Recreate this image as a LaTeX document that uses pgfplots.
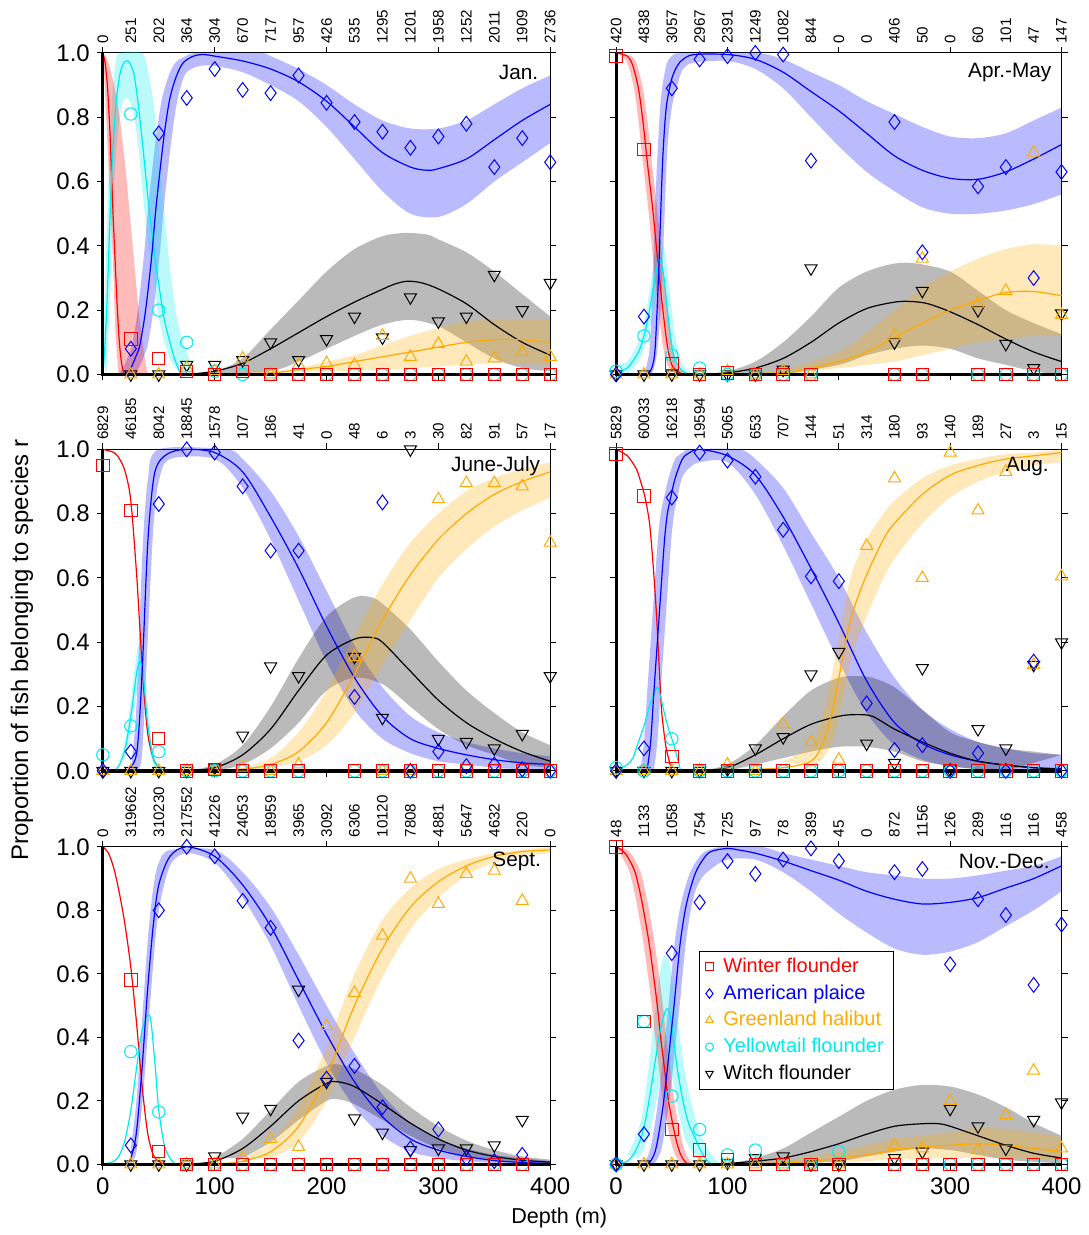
\documentclass[border=0pt]{standalone}
\usepackage{fontspec}
\setmainfont{Liberation Sans}
\usepackage{pgfplots}
\pgfplotsset{compat=1.18}
\usepgfplotslibrary{fillbetween}

\definecolor{wf}{RGB}{255,0,0}
\definecolor{ap}{RGB}{0,0,255}
\definecolor{gh}{RGB}{255,170,0}
\definecolor{yf}{RGB}{0,235,235}
\definecolor{wi}{RGB}{0,0,0}

\pgfplotsset{
  panel/.style={scale only axis, anchor=south west,
    xmin=0, xmax=400, ymin=0, ymax=1,
    xtick={0,100,200,300,400}, ytick={0,0.2,0.4,0.6,0.8,1},
    tick align=outside, major tick length=3pt, clip=false,
    axis line style={line width=0.5pt},
    every tick/.style={black, line width=0.5pt},
    tick label style={font=\fontsize{12}{14}\selectfont},
    /pgf/number format/assume math mode=true,
    yticklabel style={/pgf/number format/fixed, /pgf/number format/fixed zerofill, /pgf/number format/precision=1}},
  % fitted curves
  lwf/.style={wf, line width=0.6pt, smooth, forget plot},
  lap/.style={ap, line width=0.6pt, smooth, forget plot},
  lgh/.style={gh, line width=0.6pt, smooth, forget plot},
  lyf/.style={yf, line width=0.6pt, smooth, forget plot},
  lwi/.style={wi, line width=0.6pt, smooth, forget plot},
  % observed proportions
  mwf/.style={only marks, wf, mark=square, mark size=3.1pt, mark options={line width=0.5pt}, forget plot},
  map/.style={only marks, ap, mark=diamond, mark size=3.7pt, mark options={line width=0.5pt}, forget plot},
  mgh/.style={only marks, gh, mark=triangle, mark size=3.5pt, mark options={line width=0.5pt}, forget plot},
  myf/.style={only marks, yf, mark=o, mark size=3.1pt, mark options={line width=0.5pt}, forget plot},
  mwi/.style={only marks, wi, mark=triangle, mark size=3.5pt, mark options={rotate=180, line width=0.5pt}, forget plot},
}

% confidence band: colour, id, upper edge, lower edge
\newcommand{\band}[4]{%
  \addplot[draw=none, smooth, forget plot, name path=#2u] coordinates {#3};
  \addplot[draw=none, smooth, forget plot, name path=#2l] coordinates {#4};
  \addplot[fill=#1, fill opacity=0.27, draw=none, forget plot] fill between[of=#2u and #2l];
}
\newcommand{\frameaxes}{\draw[line width=1.6pt] (rel axis cs:0,1) -- (rel axis cs:0,0) -- (rel axis cs:1,0);}
\newcommand{\panellabel}[3]{\node[anchor=east, font=\fontsize{10.4}{12}\selectfont] at (rel axis cs:#1,#2) {#3};}
% sample sizes along the top edge: left x, step per 25 m, top y, list
\newcommand{\toplabels}[4]{%
  \foreach \n [count=\i from 0] in {#4}
    \node[rotate=90, anchor=west, font=\fontsize{7.6}{8}\selectfont, inner sep=0pt] at ({#1+\i*#2},{#3+4.5pt}) {\n};}

\begin{document}
\begin{tikzpicture}

% ================= January =================
\begin{axis}[panel, at={(51.5pt,430pt)}, width=224pt, height=161pt, xticklabels={}]
\band{ap}{a1}{(13,0) (18,0.02) (23,0.06) (26,0.09) (30,0.17) (33,0.25) (37,0.38) (40,0.5) (43,0.6) (48,0.75) (53,0.86) (59,0.93) (65,0.97) (74,0.99) (85,1) (140,1) (150,0.99) (175,0.95) (200,0.9) (225,0.84) (250,0.79) (275,0.765) (300,0.765) (325,0.79) (350,0.84) (375,0.89) (400,0.93)}
  {(27,0) (32,0.02) (37,0.06) (40,0.09) (44,0.17) (47,0.25) (51,0.38) (54,0.5) (57,0.6) (62,0.75) (67,0.86) (73,0.93) (79,0.95) (88,0.96) (100,0.96) (125,0.94) (150,0.9) (175,0.85) (200,0.77) (225,0.67) (250,0.57) (275,0.5) (300,0.49) (325,0.53) (350,0.6) (375,0.66) (400,0.72)}
\band{wi}{k1}{(75,0) (100,0.01) (125,0.05) (150,0.14) (175,0.23) (200,0.32) (225,0.39) (250,0.43) (270,0.44) (290,0.435) (300,0.42) (325,0.38) (350,0.32) (375,0.25) (400,0.18)}
  {(100,0) (150,0.01) (175,0.04) (200,0.08) (225,0.12) (250,0.155) (275,0.17) (300,0.15) (325,0.1) (350,0.05) (375,0.02) (400,0.01)}
\band{gh}{g1}{(100,0) (150,0.01) (175,0.02) (200,0.04) (225,0.06) (250,0.09) (275,0.12) (300,0.145) (325,0.165) (350,0.17) (375,0.17) (400,0.17)}
  {(100,0) (250,0.015) (300,0.025) (350,0.035) (400,0.03)}
\band{yf}{c1}{(0,0.05) (3,0.4) (6,0.7) (9,0.9) (12,0.98) (15,1) (35,1) (40,0.95) (45,0.85) (50,0.7) (55,0.5) (60,0.33) (65,0.2) (70,0.12) (75,0.07) (78,0.04) (82,0)}
  {(3,0) (6,0.2) (9,0.5) (12,0.7) (16,0.82) (20,0.86) (24,0.85) (28,0.8) (32,0.7) (36,0.55) (40,0.42) (45,0.3) (50,0.18) (55,0.1) (60,0.05) (65,0.02) (70,0)}
\band{wf}{r1}{(0,1) (5,0.97) (10,0.9) (15,0.8) (20,0.65) (24,0.5) (28,0.35) (32,0.2) (36,0.09) (39,0.02) (41,0)}
  {(0,1) (1,0.95) (3,0.8) (5,0.65) (7,0.5) (9,0.35) (11,0.15) (12,0.09) (14,0)}
\addplot[lwf] coordinates {(0,1) (2,0.97) (4,0.9) (6,0.78) (8,0.6) (9,0.51) (11,0.35) (13,0.2) (15,0.09) (17,0.03) (19,0)};
\addplot[lyf] coordinates {(0,0) (2,0.1) (4,0.25) (6.5,0.5) (9,0.7) (12,0.85) (15,0.93) (18,0.965) (21,0.975) (24,0.97) (28,0.93) (32,0.83) (36,0.7) (40,0.56) (42,0.5) (46,0.38) (50,0.28) (55,0.17) (60,0.1) (65,0.04) (70,0)};
\addplot[lap] coordinates {(20,0) (25,0.02) (30,0.06) (33,0.09) (37,0.17) (40,0.25) (44,0.38) (47,0.5) (50,0.6) (55,0.75) (60,0.86) (66,0.93) (72,0.97) (81,0.99) (90,0.995) (100,0.99) (125,0.975) (150,0.95) (175,0.91) (200,0.85) (225,0.77) (250,0.69) (275,0.645) (290,0.635) (300,0.64) (325,0.67) (350,0.73) (375,0.79) (400,0.84)};
\addplot[lwi] coordinates {(75,0) (100,0.01) (125,0.035) (150,0.08) (175,0.13) (200,0.18) (225,0.225) (250,0.265) (260,0.28) (272,0.29) (285,0.285) (300,0.266) (325,0.22) (350,0.155) (375,0.1) (400,0.06)};
\addplot[lgh] coordinates {(100,0) (150,0.005) (175,0.015) (200,0.025) (225,0.04) (250,0.055) (275,0.07) (300,0.085) (325,0.1) (350,0.108) (375,0.108) (400,0.1)};
\addplot[mwi] coordinates {(25,0) (50,0) (75,0.03) (100,0.03) (125,0.045) (150,0.1) (175,0.045) (200,0.11) (225,0.18) (250,0.115) (275,0.24) (300,0.165) (325,0.18) (350,0.31) (375,0.2) (400,0.285)};
\addplot[mgh] coordinates {(25,0) (50,0) (75,0.02) (100,0.01) (125,0.05) (150,0) (175,0.03) (200,0.035) (225,0.03) (250,0.12) (275,0.055) (300,0.095) (325,0.04) (350,0.05) (375,0.07) (400,0.055)};
\addplot[myf] coordinates {(25,0.81) (50,0.2) (75,0.1) (100,0.01) (125,0) (150,0) (175,0) (200,0) (225,0) (250,0) (275,0) (300,0) (325,0) (350,0) (375,0) (400,0)};
\addplot[map] coordinates {(25,0.08) (50,0.75) (75,0.86) (100,0.95) (125,0.885) (150,0.875) (175,0.93) (200,0.845) (225,0.785) (250,0.755) (275,0.705) (300,0.74) (325,0.78) (350,0.645) (375,0.735) (400,0.66)};
\addplot[mwf] coordinates {(25,0.11) (50,0.05) (75,0.01) (100,0) (125,0.01) (150,0) (175,0) (200,0) (225,0) (250,0) (275,0) (300,0) (325,0) (350,0) (375,0) (400,0)};
\frameaxes
\panellabel{0.989}{0.94}{Jan.}
\end{axis}
\toplabels{51.5pt}{14pt}{591pt}{0,251,202,364,304,670,717,957,426,535,1295,1201,1958,1252,2011,1909,2736}

% ================= April-May =================
\begin{axis}[panel, at={(308.5pt,430pt)}, width=223pt, height=161pt, xticklabels={}, yticklabels={}]
\band{ap}{a2}{(25,0) (30,0.08) (33,0.3) (36,0.6) (40,0.85) (45,0.96) (50,0.99) (60,1) (125,1) (150,0.98) (175,0.94) (200,0.9) (225,0.85) (250,0.81) (275,0.77) (300,0.74) (325,0.735) (350,0.75) (375,0.79) (400,0.83)}
  {(32,0) (36,0.05) (40,0.2) (43,0.45) (46,0.7) (50,0.83) (55,0.9) (60,0.95) (70,0.97) (100,0.975) (125,0.95) (150,0.89) (175,0.8) (200,0.71) (225,0.63) (250,0.57) (275,0.52) (300,0.5) (325,0.5) (350,0.51) (375,0.53) (400,0.56)}
\band{wi}{k2}{(75,0) (100,0.01) (125,0.04) (150,0.1) (175,0.18) (200,0.27) (225,0.32) (250,0.345) (270,0.345) (300,0.32) (325,0.26) (350,0.2) (375,0.16) (400,0.125)}
  {(150,0) (200,0.03) (225,0.06) (250,0.08) (275,0.09) (300,0.08) (325,0.05) (350,0.03) (375,0.01) (400,0)}
\band{gh}{g2}{(100,0) (150,0.015) (200,0.07) (225,0.13) (250,0.2) (275,0.27) (300,0.32) (325,0.36) (350,0.39) (375,0.405) (400,0.4)}
  {(150,0) (200,0.02) (250,0.04) (275,0.06) (300,0.08) (325,0.1) (350,0.11) (375,0.12) (400,0.12)}
\band{yf}{c2}{(0,0.03) (10,0.04) (20,0.1) (25,0.16) (30,0.26) (35,0.37) (39,0.42) (44,0.38) (48,0.26) (52,0.14) (56,0.07) (60,0.03) (66,0.01) (70,0)}
  {(10,0) (20,0.04) (25,0.08) (30,0.14) (35,0.22) (39,0.28) (43,0.22) (47,0.1) (51,0.03) (55,0.01) (60,0)}
\band{wf}{r2}{(0,1) (14,0.99) (19,0.96) (24,0.89) (28,0.79) (32,0.66) (37,0.51) (42,0.33) (46,0.2) (50,0.09) (54,0.03) (59,0.01) (64,0)}
  {(0,1) (6,0.99) (11,0.96) (16,0.89) (20,0.79) (24,0.66) (29,0.51) (34,0.33) (38,0.2) (42,0.09) (46,0.03) (51,0.01) (56,0)}
\addplot[lwf] coordinates {(0,1) (10,0.99) (15,0.96) (20,0.89) (24,0.79) (28,0.66) (33,0.51) (38,0.33) (42,0.2) (46,0.09) (50,0.03) (55,0.01) (60,0)};
\addplot[lyf] coordinates {(0,0.01) (10,0.02) (20,0.07) (25,0.12) (30,0.2) (35,0.3) (39,0.36) (43,0.3) (47,0.17) (51,0.07) (55,0.03) (60,0.01) (65,0)};
\addplot[lap] coordinates {(28,0) (32,0.02) (35,0.08) (38,0.3) (40,0.5) (42,0.68) (45,0.83) (50,0.92) (55,0.96) (60,0.98) (70,0.995) (100,0.995) (125,0.98) (150,0.94) (175,0.88) (200,0.82) (225,0.75) (250,0.68) (275,0.635) (300,0.61) (325,0.607) (350,0.63) (375,0.67) (400,0.715)};
\addplot[lwi] coordinates {(75,0) (100,0.005) (125,0.02) (150,0.05) (175,0.1) (200,0.16) (225,0.205) (250,0.225) (265,0.227) (280,0.22) (300,0.195) (325,0.155) (350,0.11) (375,0.07) (400,0.04)};
\addplot[lgh] coordinates {(100,0) (150,0.005) (175,0.02) (200,0.04) (225,0.07) (250,0.115) (275,0.16) (300,0.2) (325,0.23) (350,0.255) (375,0.258) (400,0.245)};
\addplot[mwi] coordinates {(0,0) (25,0) (50,0) (75,0) (100,0) (125,0) (150,0.015) (175,0.33) (250,0.1) (275,0.26) (325,0.2) (350,0.095) (375,0.02) (400,0.19)};
\addplot[mgh] coordinates {(0,0) (25,0) (50,0) (75,0) (100,0.01) (125,0) (150,0.01) (175,0) (250,0.12) (275,0.36) (325,0.22) (350,0.26) (375,0.69) (400,0.185)};
\addplot[myf] coordinates {(0,0.01) (25,0.12) (50,0.06) (75,0.02) (100,0) (125,0) (150,0) (175,0) (250,0) (275,0) (325,0) (350,0) (375,0) (400,0)};
\addplot[map] coordinates {(0,0) (25,0.18) (50,0.89) (75,0.98) (100,0.99) (125,1.0) (150,0.995) (175,0.665) (250,0.785) (275,0.38) (325,0.585) (350,0.645) (375,0.3) (400,0.63)};
\addplot[mwf] coordinates {(0,0.99) (25,0.7) (50,0.035) (75,0) (100,0.005) (125,0) (150,0) (175,0) (250,0) (275,0) (325,0) (350,0) (375,0) (400,0)};
\frameaxes
\panellabel{0.993}{0.94}{Apr.-May}
\end{axis}
\toplabels{308.5pt}{13.9375pt}{591pt}{420,4838,3057,2967,2391,1249,1082,844,0,0,406,50,0,60,101,47,147}

% ================= June-July =================
\begin{axis}[panel, at={(51.5pt,231.5pt)}, width=224pt, height=161pt, xticklabels={}]
\band{ap}{a3}{(25,0) (30,0.2) (35,0.65) (40,0.9) (50,1) (110,1) (125,0.97) (150,0.87) (175,0.73) (200,0.56) (225,0.39) (250,0.26) (275,0.17) (300,0.12) (325,0.09) (350,0.07) (375,0.055) (400,0.045)}
  {(30,0) (35,0.05) (40,0.4) (45,0.75) (50,0.9) (60,0.97) (100,0.97) (125,0.88) (150,0.72) (175,0.53) (200,0.34) (225,0.19) (250,0.1) (275,0.055) (300,0.03) (325,0.02) (350,0.01) (375,0.005) (400,0)}
\band{wi}{k3}{(75,0) (100,0.02) (125,0.08) (150,0.2) (175,0.35) (200,0.48) (225,0.54) (240,0.54) (250,0.52) (275,0.44) (300,0.34) (325,0.25) (350,0.18) (375,0.12) (400,0.08)}
  {(100,0) (125,0.02) (150,0.07) (175,0.15) (200,0.25) (225,0.29) (250,0.27) (275,0.2) (300,0.13) (325,0.08) (350,0.05) (375,0.02) (400,0.01)}
\band{gh}{g3}{(100,0) (125,0.01) (150,0.04) (175,0.12) (200,0.25) (225,0.42) (250,0.58) (275,0.71) (300,0.8) (325,0.87) (350,0.91) (375,0.94) (400,0.96)}
  {(125,0) (150,0.01) (175,0.03) (200,0.08) (225,0.18) (250,0.33) (275,0.47) (300,0.6) (325,0.69) (350,0.76) (375,0.81) (400,0.85)}
\band{yf}{c3}{(15,0.03) (20,0.1) (25,0.22) (30,0.36) (33,0.4) (36,0.36) (40,0.2) (45,0.06) (50,0.02) (55,0)}
  {(20,0.04) (25,0.12) (30,0.24) (33,0.28) (36,0.24) (40,0.1) (45,0.02) (50,0)}
\addplot[lwf] coordinates {(0,1) (10,0.99) (15,0.97) (20,0.93) (25,0.84) (30,0.62) (33,0.45) (36,0.28) (40,0.12) (45,0.04) (50,0.01) (55,0)};
\addplot[lyf] coordinates {(10,0) (15,0.02) (20,0.07) (25,0.17) (30,0.3) (33,0.34) (36,0.3) (40,0.15) (45,0.04) (50,0.01) (55,0)};
\addplot[lap] coordinates {(20,0) (30,0.05) (35,0.3) (40,0.7) (45,0.9) (50,0.96) (60,0.99) (75,1.0) (100,0.99) (125,0.93) (150,0.79) (175,0.63) (200,0.45) (225,0.29) (250,0.17) (275,0.1) (300,0.07) (325,0.05) (350,0.035) (375,0.025) (400,0.02)};
\addplot[lwi] coordinates {(75,0) (100,0.01) (125,0.05) (150,0.13) (175,0.25) (200,0.36) (225,0.41) (240,0.415) (250,0.4) (275,0.31) (300,0.22) (325,0.15) (350,0.1) (375,0.06) (400,0.03)};
\addplot[lgh] coordinates {(100,0) (125,0.005) (150,0.02) (175,0.06) (200,0.15) (225,0.3) (250,0.47) (275,0.61) (300,0.72) (325,0.8) (350,0.86) (375,0.9) (400,0.93)};
\addplot[mwi] coordinates {(0,0) (25,0) (50,0) (75,0) (100,0.01) (125,0.11) (150,0.325) (175,0.295) (225,0.355) (250,0.165) (275,1.0) (300,0.1) (325,0.09) (350,0.07) (375,0.115) (400,0.295)};
\addplot[mgh] coordinates {(0,0) (25,0) (50,0) (75,0) (100,0) (125,0.01) (150,0) (175,0.02) (225,0.355) (250,0) (275,0) (300,0.845) (325,0.895) (350,0.895) (375,0.885) (400,0.71)};
\addplot[myf] coordinates {(0,0.05) (25,0.14) (50,0.06) (75,0) (100,0) (125,0) (150,0) (175,0) (225,0) (250,0) (275,0) (300,0) (325,0) (350,0) (375,0) (400,0)};
\addplot[map] coordinates {(0,0) (25,0.06) (50,0.83) (75,1.0) (100,0.99) (125,0.885) (150,0.685) (175,0.685) (225,0.23) (250,0.835) (275,0) (300,0.06) (325,0.015) (350,0.02) (375,0.005) (400,0)};
\addplot[mwf] coordinates {(0,0.95) (25,0.81) (50,0.1) (75,0) (100,0.005) (125,0) (150,0) (175,0) (225,0) (250,0) (275,0) (300,0) (325,0) (350,0) (375,0) (400,0)};
\frameaxes
\panellabel{0.993}{0.947}{June-July}
\end{axis}
\toplabels{51.5pt}{14pt}{392.5pt}{6829,46185,8042,18845,1578,107,186,41,0,48,6,3,30,82,91,57,17}

% ================= August =================
\begin{axis}[panel, at={(308.5pt,231.5pt)}, width=223pt, height=161pt, xticklabels={}, yticklabels={}]
\band{ap}{a4}{(20,0) (22,0.01) (25,0.09) (28,0.25) (31,0.4) (33,0.5) (35,0.6) (37.5,0.72) (40,0.8) (43,0.85) (47,0.91) (53,0.97) (60,0.99) (67,1) (110,1) (125,0.97) (150,0.88) (175,0.74) (200,0.6) (225,0.43) (250,0.29) (275,0.19) (300,0.13) (325,0.09) (350,0.07) (375,0.055) (400,0.05)}
  {(32,0) (34,0.01) (37,0.09) (40,0.25) (43,0.4) (45,0.5) (47,0.6) (49.5,0.72) (52,0.8) (55,0.85) (59,0.91) (65,0.94) (75,0.96) (100,0.96) (125,0.86) (150,0.7) (175,0.52) (200,0.34) (225,0.18) (250,0.08) (275,0.035) (300,0.015) (325,0.006) (350,0.002) (400,0)}
\band{wi}{k4}{(75,0) (100,0.02) (125,0.08) (150,0.17) (175,0.25) (200,0.29) (215,0.295) (230,0.29) (250,0.26) (275,0.19) (300,0.12) (325,0.09) (350,0.07) (375,0.06) (400,0.05)}
  {(100,0) (125,0.02) (150,0.04) (175,0.06) (200,0.075) (225,0.075) (250,0.06) (275,0.03) (300,0.015) (325,0.005) (350,0)}
\band{gh}{g4}{(150,0.03) (175,0.08) (186,0.18) (195,0.32) (206,0.53) (213,0.63) (225,0.72) (240,0.8) (250,0.84) (275,0.91) (300,0.95) (325,0.97) (350,0.985) (375,0.99) (400,1)}
  {(175,0.01) (186,0.04) (195,0.1) (206,0.27) (213,0.37) (225,0.48) (240,0.6) (250,0.66) (275,0.77) (300,0.85) (325,0.9) (350,0.93) (375,0.95) (400,0.96)}
\addplot[lwf] coordinates {(0,1) (10,0.98) (18,0.94) (22,0.9) (26,0.85) (30,0.77) (33,0.65) (36,0.5) (39,0.3) (41,0.18) (44.5,0.08) (47,0.04) (50,0)};
\addplot[lyf] coordinates {(0,0.02) (5,0.01) (10,0.02) (15,0.04) (20,0.09) (25,0.14) (30,0.2) (34,0.24) (37,0.26) (40,0.23) (44,0.17) (48,0.12) (52,0.08) (55,0.04) (58,0)};
\addplot[lap] coordinates {(26,0) (28,0.01) (31,0.09) (34,0.25) (37,0.4) (39,0.5) (41,0.6) (43.5,0.72) (46,0.8) (49,0.85) (53,0.91) (59.5,0.97) (66,0.99) (75,1) (100,0.98) (125,0.92) (150,0.79) (175,0.63) (200,0.46) (225,0.28) (250,0.15) (275,0.085) (300,0.05) (325,0.03) (350,0.018) (375,0.01) (400,0.007)};
\addplot[lwi] coordinates {(75,0) (100,0.01) (125,0.05) (150,0.1) (175,0.145) (200,0.17) (215,0.175) (230,0.17) (250,0.13) (275,0.09) (300,0.055) (325,0.03) (350,0.018) (375,0.01) (400,0.005)};
\addplot[lgh] coordinates {(100,0) (125,0.005) (150,0.01) (175,0.03) (186,0.09) (195,0.2) (206,0.4) (213,0.5) (225,0.61) (240,0.72) (250,0.77) (275,0.86) (300,0.92) (325,0.95) (350,0.97) (375,0.98) (400,0.99)};
\addplot[mwi] coordinates {(0,0) (25,0) (50,0) (75,0) (100,0.005) (125,0.07) (150,0.105) (175,0.3) (200,0.37) (225,0.085) (250,0.025) (275,0.32) (300,0.005) (325,0.13) (350,0.07) (375,0.33) (400,0.4)};
\addplot[mgh] coordinates {(0,0) (25,0) (50,0) (75,0) (100,0.02) (125,0) (150,0.145) (175,0.09) (200,0.035) (225,0.7) (250,0.91) (275,0.6) (300,0.99) (325,0.81) (350,0.93) (375,0.33) (400,0.605)};
\addplot[myf] coordinates {(0,0.01) (25,0) (50,0.1) (75,0) (100,0) (125,0) (150,0) (175,0) (200,0) (225,0) (250,0) (275,0) (300,0) (325,0) (350,0) (375,0) (400,0)};
\addplot[map] coordinates {(0,0) (25,0.07) (50,0.85) (75,0.99) (100,0.965) (125,0.915) (150,0.75) (175,0.605) (200,0.59) (225,0.21) (250,0.065) (275,0.08) (300,0) (325,0.055) (350,0) (375,0.34) (400,0)};
\addplot[mwf] coordinates {(0,0.985) (25,0.855) (50,0.045) (75,0) (100,0) (125,0) (150,0) (175,0) (200,0) (225,0) (250,0) (275,0) (300,0) (325,0) (350,0) (375,0) (400,0)};
\frameaxes
\panellabel{0.987}{0.947}{Aug.}
\end{axis}
\toplabels{308.5pt}{13.9375pt}{392.5pt}{5829,60033,16218,19594,5065,653,707,144,51,314,180,93,140,189,27,3,15}

% ================= September =================
\begin{axis}[panel, at={(51.5pt,34.5pt)}, width=224pt, height=159pt]
\band{ap}{a5}{(25,0.05) (30,0.2) (35,0.45) (40,0.7) (45,0.87) (50,0.95) (60,0.99) (100,0.99) (125,0.92) (150,0.81) (175,0.66) (200,0.5) (225,0.35) (250,0.22) (275,0.13) (300,0.08) (325,0.05) (350,0.03) (375,0.02) (400,0.01)}
  {(25,0) (30,0.04) (35,0.18) (40,0.4) (45,0.63) (50,0.8) (60,0.94) (75,0.98) (100,0.95) (125,0.84) (150,0.69) (175,0.5) (200,0.32) (225,0.18) (250,0.09) (275,0.04) (300,0.02) (325,0.01) (350,0.005) (400,0)}
\band{wi}{k5}{(100,0.02) (125,0.08) (150,0.17) (175,0.26) (200,0.31) (210,0.315) (225,0.3) (250,0.25) (275,0.18) (300,0.12) (325,0.075) (350,0.045) (375,0.025) (400,0.015)}
  {(125,0.02) (150,0.07) (175,0.14) (200,0.2) (210,0.205) (225,0.19) (250,0.14) (275,0.09) (300,0.05) (325,0.025) (350,0.012) (375,0.005) (400,0)}
\band{gh}{g5}{(125,0.02) (150,0.07) (175,0.18) (200,0.37) (225,0.6) (250,0.77) (275,0.87) (300,0.93) (325,0.96) (350,0.98) (375,0.99) (400,1)}
  {(150,0.02) (175,0.07) (200,0.2) (225,0.4) (250,0.59) (275,0.74) (300,0.84) (325,0.91) (350,0.95) (375,0.97) (400,0.98)}
\addplot[lwf] coordinates {(0,1) (5,0.98) (10,0.93) (15,0.85) (20,0.75) (25,0.62) (30,0.45) (35,0.25) (40,0.1) (45,0.03) (50,0.01) (55,0)};
\addplot[lyf] coordinates {(0,0) (10,0.01) (15,0.03) (20,0.08) (25,0.17) (30,0.3) (35,0.42) (40,0.47) (43,0.45) (47,0.3) (50,0.17) (55,0.06) (60,0.02) (65,0)};
\addplot[lap] coordinates {(20,0) (25,0.02) (30,0.1) (35,0.3) (40,0.55) (45,0.75) (50,0.88) (60,0.97) (75,1) (100,0.97) (125,0.88) (150,0.75) (175,0.58) (200,0.41) (225,0.26) (250,0.15) (275,0.08) (300,0.045) (325,0.025) (350,0.012) (375,0.006) (400,0.003)};
\addplot[lwi] coordinates {(75,0) (100,0.01) (125,0.05) (150,0.12) (175,0.2) (200,0.255) (210,0.26) (225,0.245) (250,0.19) (275,0.13) (300,0.08) (325,0.045) (350,0.025) (375,0.013) (400,0.007)};
\addplot[lgh] coordinates {(100,0) (125,0.01) (150,0.04) (175,0.12) (200,0.28) (225,0.5) (250,0.68) (275,0.81) (300,0.89) (325,0.94) (350,0.97) (375,0.985) (400,0.99)};
\addplot[mwi] coordinates {(25,0) (50,0) (75,0) (100,0.025) (125,0.15) (150,0.175) (175,0.55) (200,0.26) (225,0.145) (250,0.1) (275,0.045) (300,0.05) (325,0.05) (350,0.06) (375,0.14)};
\addplot[mgh] coordinates {(25,0) (50,0) (75,0) (100,0) (125,0.02) (150,0.08) (175,0.055) (200,0.435) (225,0.54) (250,0.72) (275,0.9) (300,0.82) (325,0.915) (350,0.925) (375,0.83)};
\addplot[myf] coordinates {(25,0.355) (50,0.165) (75,0) (100,0) (125,0) (150,0) (175,0) (200,0) (225,0) (250,0) (275,0) (300,0) (325,0) (350,0) (375,0)};
\addplot[map] coordinates {(25,0.06) (50,0.8) (75,1.0) (100,0.97) (125,0.83) (150,0.745) (175,0.39) (200,0.27) (225,0.31) (250,0.18) (275,0.05) (300,0.11) (325,0.02) (350,0.01) (375,0.03)};
\addplot[mwf] coordinates {(25,0.58) (50,0.04) (75,0) (100,0) (125,0) (150,0) (175,0) (200,0) (225,0) (250,0) (275,0) (300,0) (325,0) (350,0) (375,0)};
\frameaxes
\panellabel{0.995}{0.953}{Sept.}
\end{axis}
\toplabels{51.5pt}{14pt}{193.5pt}{0,319662,310230,217552,41226,24053,18959,3965,3092,6306,10120,7808,4881,5647,4632,220,0}

% ================= November-December =================
\begin{axis}[panel, at={(308.5pt,34.5pt)}, width=223pt, height=159pt, yticklabels={},
  legend style={at={(0.186,0.673)}, anchor=north west, draw=black, line width=0.5pt,
    font=\fontsize{10}{12}\selectfont, inner xsep=3pt, inner ysep=1.5pt, row sep=0.6pt,
    /tikz/every odd column/.append style={column sep=3pt}, legend cell align=left}]
\band{ap}{a6}{(23,0) (26,0.01) (30,0.04) (33,0.09) (37,0.18) (41,0.3) (44,0.4) (47,0.5) (50,0.61) (53,0.71) (57,0.8) (61,0.86) (66.5,0.92) (73,0.96) (80,0.985) (95,1) (130,1) (150,0.98) (175,0.96) (200,0.94) (225,0.92) (250,0.91) (275,0.9) (300,0.9) (325,0.91) (350,0.925) (375,0.94) (400,0.97)}
  {(33,0) (36,0.01) (40,0.04) (43,0.09) (47,0.18) (51,0.3) (54,0.4) (57,0.5) (60,0.61) (63,0.71) (67,0.8) (71,0.86) (76.5,0.9) (85,0.93) (100,0.96) (125,0.96) (150,0.92) (175,0.86) (200,0.79) (225,0.73) (250,0.68) (275,0.66) (300,0.67) (325,0.7) (350,0.75) (375,0.8) (400,0.86)}
\band{wi}{k6}{(100,0) (125,0.02) (150,0.05) (175,0.1) (200,0.15) (225,0.2) (250,0.235) (275,0.25) (300,0.245) (325,0.22) (350,0.18) (375,0.13) (400,0.09)}
  {(150,0) (200,0.01) (225,0.025) (250,0.04) (275,0.05) (300,0.045) (325,0.03) (350,0.015) (375,0.008) (400,0.003)}
\band{gh}{g6}{(150,0.01) (200,0.04) (250,0.08) (300,0.1) (325,0.115) (350,0.11) (375,0.1) (400,0.085)}
  {(200,0.005) (250,0.015) (300,0.02) (350,0.02) (400,0.015)}
\band{yf}{c6}{(10,0.03) (17,0.08) (23,0.15) (28,0.27) (34,0.45) (39,0.6) (44,0.66) (48,0.63) (52,0.55) (56,0.43) (60,0.33) (65,0.23) (70,0.16) (75,0.1) (80,0.06) (88,0.02) (95,0)}
  {(20,0.02) (25,0.05) (30,0.1) (35,0.18) (40,0.26) (45,0.3) (49,0.29) (53,0.23) (57,0.15) (62,0.08) (68,0.04) (75,0.01) (80,0)}
\band{wf}{r6}{(0,1) (10,0.99) (15,0.97) (22,0.92) (28,0.83) (34,0.71) (38,0.61) (42,0.5) (45,0.4) (48.5,0.3) (52,0.2) (58,0.09) (63,0.03) (69,0)}
  {(0,1) (5,0.97) (12,0.92) (18,0.83) (24,0.71) (28,0.61) (32,0.5) (35,0.4) (38.5,0.3) (42,0.2) (48,0.09) (53,0.03) (59,0)}
\addplot[lwf] coordinates {(0,1) (5,0.99) (10,0.97) (17,0.92) (23,0.83) (29,0.71) (33,0.61) (37,0.5) (40,0.4) (43.5,0.3) (47,0.2) (53,0.09) (58,0.03) (64,0)};
\addplot[lyf] coordinates {(0,0) (10,0.01) (17,0.04) (23,0.09) (28,0.17) (34,0.3) (39,0.41) (43,0.47) (46,0.49) (49,0.46) (52,0.38) (55,0.3) (60,0.2) (65,0.13) (70,0.09) (75,0.05) (80,0.02) (85,0)};
\addplot[lap] coordinates {(28,0) (31,0.01) (35,0.04) (38,0.09) (42,0.18) (46,0.3) (49,0.4) (52,0.5) (55,0.61) (58,0.71) (62,0.8) (66,0.86) (71.5,0.92) (78,0.96) (85,0.985) (100,0.995) (110,0.99) (125,0.98) (150,0.955) (175,0.925) (200,0.895) (225,0.86) (250,0.835) (275,0.82) (300,0.825) (325,0.84) (350,0.87) (375,0.9) (400,0.94)};
\addplot[lwi] coordinates {(75,0) (100,0.003) (125,0.01) (150,0.02) (175,0.04) (200,0.065) (225,0.095) (250,0.12) (275,0.128) (290,0.128) (300,0.12) (325,0.09) (350,0.06) (375,0.035) (400,0.02)};
\addplot[lgh] coordinates {(100,0) (150,0.005) (175,0.01) (200,0.02) (225,0.03) (250,0.045) (275,0.055) (300,0.06) (325,0.065) (350,0.06) (375,0.05) (400,0.04)};
\addplot[mwi] coordinates {(0,0) (25,0) (50,0) (75,0) (100,0.005) (125,0.02) (150,0.025) (175,0) (200,0) (250,0.02) (275,0.04) (300,0.175) (325,0.12) (350,0.05) (375,0.14) (400,0.195)};
\addplot[mgh] coordinates {(0,0) (25,0) (50,0) (75,0) (100,0) (125,0) (150,0) (175,0) (200,0) (250,0.06) (275,0.05) (300,0.2) (325,0.045) (350,0.155) (375,0.295) (400,0.05)};
\addplot[myf] coordinates {(0,0) (25,0.45) (50,0.215) (75,0.11) (100,0.03) (125,0.045) (150,0) (175,0) (200,0.04) (250,0) (275,0) (300,0) (325,0) (350,0) (375,0) (400,0)};
\addplot[map] coordinates {(0,0) (25,0.095) (50,0.665) (75,0.825) (100,0.955) (125,0.915) (150,0.96) (175,0.995) (200,0.955) (250,0.92) (275,0.93) (300,0.63) (325,0.835) (350,0.785) (375,0.565) (400,0.755)};
\addplot[mwf] coordinates {(0,1.0) (25,0.45) (50,0.11) (75,0.045) (100,0.015) (125,0) (150,0) (175,0) (200,0) (250,0) (275,0) (300,0) (325,0) (350,0) (375,0) (400,0)};
\addlegendimage{only marks, wf, mark=square, mark size=2pt, mark options={line width=0.5pt}}
\addlegendentry{\textcolor{wf}{Winter flounder}}
\addlegendimage{only marks, ap, mark=diamond, mark size=2.4pt, mark options={line width=0.5pt}}
\addlegendentry{\textcolor{ap}{American plaice}}
\addlegendimage{only marks, gh, mark=triangle, mark size=2.2pt, mark options={line width=0.5pt}}
\addlegendentry{\textcolor{gh}{Greenland halibut}}
\addlegendimage{only marks, yf, mark=o, mark size=2pt, mark options={line width=0.5pt}}
\addlegendentry{\textcolor{yf}{Yellowtail flounder}}
\addlegendimage{only marks, wi, mark=triangle, mark size=2.2pt, mark options={rotate=180, line width=0.5pt}}
\addlegendentry{\textcolor{wi}{Witch flounder}}
\frameaxes
\panellabel{0.989}{0.953}{Nov.-Dec.}
\end{axis}
\toplabels{308.5pt}{13.9375pt}{193.5pt}{48,1133,1058,754,725,97,78,389,45,0,872,1156,126,289,116,116,458}

% shared axis titles
\node[rotate=90, font=\fontsize{12}{14}\selectfont] at (11pt,292pt) {Proportion of fish belonging to species r};
\node[font=\fontsize{10.8}{13}\selectfont] at (280pt,7.5pt) {Depth (m)};
\path (0,0) rectangle (542.5pt,617.5pt);
\end{tikzpicture}
\end{document}
